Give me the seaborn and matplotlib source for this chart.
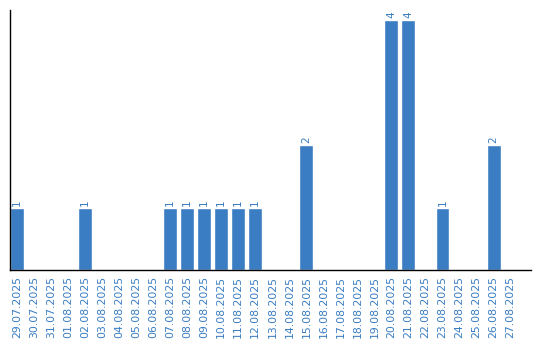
import matplotlib
matplotlib.use("Agg")
import matplotlib.pyplot as plt
import seaborn as sns
import pandas as pd

dates = ["29.07.2025", "30.07.2025", "31.07.2025", "01.08.2025", "02.08.2025",
         "03.08.2025", "04.08.2025", "05.08.2025", "06.08.2025", "07.08.2025",
         "08.08.2025", "09.08.2025", "10.08.2025", "11.08.2025", "12.08.2025",
         "13.08.2025", "14.08.2025", "15.08.2025", "16.08.2025", "17.08.2025",
         "18.08.2025", "19.08.2025", "20.08.2025", "21.08.2025", "22.08.2025",
         "23.08.2025", "24.08.2025", "25.08.2025", "26.08.2025", "27.08.2025"]
counts = [1, 0, 0, 0, 1, 0, 0, 0, 0, 1, 1, 1, 1, 1, 1, 0, 0, 2, 0, 0, 0, 0,
          4, 4, 0, 1, 0, 0, 2, 0]

color = "#3a7dc2"
sns.set_style("white")
plt.rcParams['font.family'] = ['DejaVu Sans']

df = pd.DataFrame({"date": dates, "count": counts})
fig = plt.figure(figsize=(5.4, 3.4), dpi=100)
ax = fig.add_axes([10/540, 70/340, 521/540, 260/340])
sns.barplot(data=df, x="date", y="count", color=color, saturation=1, width=0.82, ax=ax)

for i, v in enumerate(counts):
    if v > 0:
        ax.text(i, v + 0.03, str(v), rotation=90, ha="center", va="bottom",
                color=color, fontsize=7.5)

ax.set_xlim(-0.41, 30.2)
ax.set_ylim(0, 4.16)
ax.set_xlabel("")
ax.set_ylabel("")
ax.set_yticks([])
ax.tick_params(axis="x", length=0, pad=4, labelsize=7.8, labelcolor=color, rotation=90)
for s in ["top", "right"]:
    ax.spines[s].set_visible(False)
for s in ["left", "bottom"]:
    ax.spines[s].set_color("black")
    ax.spines[s].set_linewidth(1)

fig.savefig("out.png", dpi=100)
